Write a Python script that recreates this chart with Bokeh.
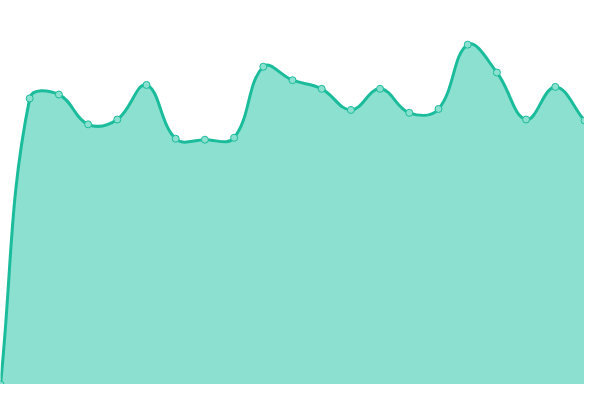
import numpy as np
from bokeh.plotting import figure
from bokeh.models import Range1d
from bokeh.embed import file_html
from bokeh.resources import INLINE

# ---- data ----
labels = list(range(21))
values = [0, 298, 302, 271, 276, 312, 256, 255, 257, 331, 317,
          308, 286, 308, 283, 287, 354, 325, 276, 310, 275]

LINE = "#1abc9c"
FILL = "#8be0cf"
W, H = 584, 384
X_MAX, Y_MAX = 20, 400
TENSION = 0.4

p = figure(width=W, height=H, output_backend="svg", toolbar_location=None,
           x_range=Range1d(0, X_MAX), y_range=Range1d(0, Y_MAX),
           x_axis_location=None, y_axis_location=None, min_border=0)
p.outline_line_color = None
p.xgrid.visible = False
p.ygrid.visible = False
p.background_fill_color = "white"
p.border_fill_color = "white"

# spline control points (Chart.js style), computed in pixel space
sx, sy = W / X_MAX, H / Y_MAX
px = np.array(labels, float) * sx
py = np.array(values, float) * sy
n = len(px)
cp_prev = np.zeros((n, 2))
cp_next = np.zeros((n, 2))
for i in range(n):
    prev_i = max(i - 1, 0)
    next_i = min(i + 1, n - 1)
    d01 = np.hypot(px[i] - px[prev_i], py[i] - py[prev_i])
    d12 = np.hypot(px[next_i] - px[i], py[next_i] - py[i])
    tot = d01 + d12
    s01 = d01 / tot if tot else 0
    s12 = d12 / tot if tot else 0
    fa, fb = TENSION * s01, TENSION * s12
    vx = px[next_i] - px[prev_i]
    vy = py[next_i] - py[prev_i]
    cp_prev[i] = (px[i] - fa * vx, min(max(py[i] - fa * vy, 0), H))
    cp_next[i] = (px[i] + fb * vx, min(max(py[i] + fb * vy, 0), H))

x0 = px[:-1] / sx; y0 = py[:-1] / sy
x1 = px[1:] / sx; y1 = py[1:] / sy
cx0 = cp_next[:-1, 0] / sx; cy0 = cp_next[:-1, 1] / sy
cx1 = cp_prev[1:, 0] / sx; cy1 = cp_prev[1:, 1] / sy

# sampled outline for the filled area
t = np.linspace(0, 1, 30)[:, None]
fx, fy = [], []
for k in range(n - 1):
    bx = ((1 - t) ** 3 * x0[k] + 3 * (1 - t) ** 2 * t * cx0[k]
          + 3 * (1 - t) * t ** 2 * cx1[k] + t ** 3 * x1[k]).ravel()
    by = ((1 - t) ** 3 * y0[k] + 3 * (1 - t) ** 2 * t * cy0[k]
          + 3 * (1 - t) * t ** 2 * cy1[k] + t ** 3 * y1[k]).ravel()
    fx.extend(bx.tolist()); fy.extend(by.tolist())
fx = [labels[0]] + fx + [labels[-1], labels[0]]
fy = [0] + fy + [0, 0]

p.patch(fx, fy, fill_color=FILL, line_color=None)
p.bezier(x0=x0, y0=y0, x1=x1, y1=y1, cx0=cx0, cy0=cy0, cx1=cx1, cy1=cy1,
         line_color=LINE, line_width=3, line_cap="round")
p.scatter(labels, values, size=7, marker="circle",
          fill_color=FILL, line_color=LINE, line_width=1)

open("out.html", "w").write(file_html(p, INLINE))
